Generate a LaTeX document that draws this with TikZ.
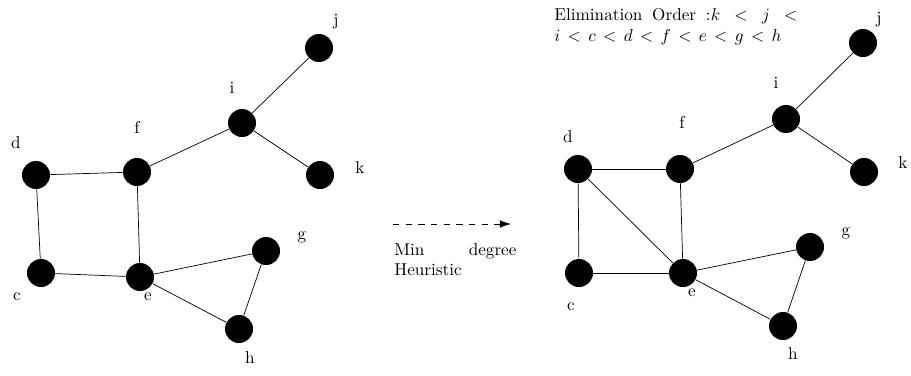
\documentclass[tikz,border=0pt]{standalone}
\usepackage{amsmath,amssymb}
\usepackage{tikz}
\usetikzlibrary{arrows,arrows.meta,positioning}

\begin{document}
\begin{tikzpicture}[x=0.025cm, y=-0.025cm, >={Latex[length=8pt,width=5.5pt]},
  line width=0.5pt,
  vertex/.style={circle, fill=black, minimum size=0.7cm, inner sep=0pt},
  lbl/.style={font=\normalsize, inner sep=0pt, scale=1.22, transform shape}]
  \useasboundingbox (0,0) rectangle (911,375);

  \node[vertex] (d1) at (36,175) {};
  \node[vertex] (f1) at (137,172) {};
  \node[vertex] (i1) at (242,123) {};
  \node[vertex] (j1) at (319,48) {};
  \node[vertex] (k1) at (320,175) {};
  \node[vertex] (c1) at (41,273) {};
  \node[vertex] (e1) at (140,277) {};
  \node[vertex] (g1) at (266,251) {};
  \node[vertex] (h1) at (239,329) {};

  \node[lbl] (ld1) at (16,143) {d};
  \node[lbl] (lf1) at (137,127) {f};
  \node[lbl] (li1) at (232,88) {i};
  \node[lbl] (lj1) at (336,22) {j};
  \node[lbl] (lk1) at (360,168) {k};
  \node[lbl] (lc1) at (17,297) {c};
  \node[lbl] (le1) at (148,297) {e};
  \node[lbl] (lg1) at (302,237) {g};
  \node[lbl] (lh1) at (250,358) {h};

  \draw (d1) -- (f1);
  \draw (d1) -- (c1);
  \draw (c1) -- (e1);
  \draw (f1) -- (e1);
  \draw (f1) -- (i1);
  \draw (i1) -- (j1);
  \draw (i1) -- (k1);
  \draw (e1) -- (g1);
  \draw (e1) -- (h1);
  \draw (g1) -- (h1);

  \coordinate (arrS) at (393,224);
  \coordinate (arrE) at (511,224);
  \draw[->, dash pattern=on 4.5pt off 4.5pt] (arrS) -- (arrE);
  \node[lbl, anchor=north west, align=justify, text width=2.5cm] (heur) at (394,243) {Min degree Heuristic};

  \node[lbl, anchor=north west, align=justify, text width=4.98cm] (order) at (554,8)
    {\thickmuskip=7.7mu plus 5mu Elimination Order :$k < j < i < c < d < f < e < g < h$};

  \node[vertex] (d2) at (578,169) {};
  \node[vertex] (f2) at (680,169) {};
  \node[vertex] (i2) at (786,119) {};
  \node[vertex] (j2) at (863,43) {};
  \node[vertex] (k2) at (864,172) {};
  \node[vertex] (c2) at (579,273) {};
  \node[vertex] (e2) at (683,273) {};
  \node[vertex] (g2) at (810,247) {};
  \node[vertex] (h2) at (783,326) {};

  \node[lbl] (ld2) at (568,137) {d};
  \node[lbl] (lf2) at (682,122) {f};
  \node[lbl] (li2) at (776,83) {i};
  \node[lbl] (lj2) at (879,20) {j};
  \node[lbl] (lk2) at (903,163) {k};
  \node[lbl] (lc2) at (571,307) {c};
  \node[lbl] (le2) at (692,293) {e};
  \node[lbl] (lg2) at (846,233) {g};
  \node[lbl] (lh2) at (793,354) {h};

  \draw (d2) -- (f2);
  \draw (d2) -- (c2);
  \draw (d2) -- (e2);
  \draw (c2) -- (e2);
  \draw (f2) -- (e2);
  \draw (f2) -- (i2);
  \draw (i2) -- (j2);
  \draw (i2) -- (k2);
  \draw (e2) -- (g2);
  \draw (e2) -- (h2);
  \draw (g2) -- (h2);
\end{tikzpicture}
\end{document}
